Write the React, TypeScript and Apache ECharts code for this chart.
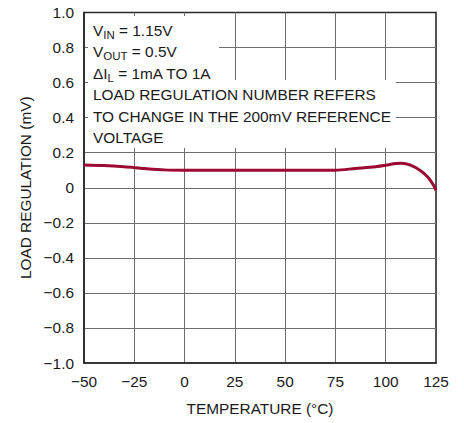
import React, { useEffect, useRef } from "react";
import * as echarts from "echarts";

const temperature = [-50, -40, -30, -20, -10, 0, 25, 50, 75, 85, 95, 100, 105, 108, 112, 117, 121, 124, 125];
const loadRegulation = [0.13, 0.127, 0.12, 0.11, 0.102, 0.1, 0.1, 0.1, 0.1, 0.11, 0.12, 0.128, 0.138, 0.14, 0.13, 0.1, 0.06, 0.01, -0.015];

const xTicks = [-50, -25, 0, 25, 50, 75, 100, 125];
const xTickLabels = ["\u221250", "\u221225", "0", "25", "50", "75", "100", "125"];
const yTicks = [-1, -0.8, -0.6, -0.4, -0.2, 0, 0.2, 0.4, 0.6, 0.8, 1];
const yTickLabels = ["\u22121.0", "\u22120.8", "\u22120.6", "\u22120.4", "\u22120.2", "0", "0.2", "0.4", "0.6", "0.8", "1.0"];

const noteLines = [
  "{m|V}{s|IN}{m| = 1.15V}",
  "{m|V}{s|OUT}{m| = 0.5V}",
  "{m|\u0394I}{s|L}{m| = 1mA TO 1A}",
  "{m|LOAD REGULATION NUMBER REFERS}",
  "{m|TO CHANGE IN THE 200mV REFERENCE}",
  "{m|VOLTAGE}",
];

const FONT = "'Liberation Sans', Arial, sans-serif";
const FS = 15.4;
const TEXT = "#1a1a1a";

function labelFor(v: number, ticks: number[], labels: string[]) {
  let best = 0;
  for (let i = 1; i < ticks.length; i++) {
    if (Math.abs(ticks[i] - v) < Math.abs(ticks[best] - v)) best = i;
  }
  return labels[best];
}

export default function App() {
  const ref = useRef<HTMLDivElement>(null);
  useEffect(() => {
    if (!ref.current) return;
    const chart = echarts.init(ref.current, undefined, { renderer: "svg" });
    const rich = {
      m: { fontSize: FS, lineHeight: 20, fontFamily: FONT, fill: TEXT, color: TEXT },
      s: { fontSize: 11.5, lineHeight: 10, verticalAlign: "bottom", fontFamily: FONT, fill: TEXT, color: TEXT },
    };
    const baselines = [36, 57, 79, 100, 121.5, 142.5];
    const texts = noteLines.map((t, i) => ({
      type: "text",
      x: 93,
      y: baselines[i] - 15.5,
      z: 11,
      style: { text: t, rich, fill: TEXT, fontFamily: FONT, fontSize: FS },
    }));
    chart.setOption({
      animation: false,
      grid: {
        left: 84,
        right: 28,
        top: 12.5,
        bottom: 60,
        show: true,
        borderColor: "#2a2a2a",
        borderWidth: 1.6,
        containLabel: false,
      },
      xAxis: {
        type: "value",
        min: -50,
        max: 125,
        interval: 25,
        name: "TEMPERATURE (\u00B0C)",
        nameLocation: "middle",
        nameGap: 38,
        nameTextStyle: { fontFamily: FONT, fontSize: FS, color: TEXT },
        axisLine: { show: true, onZero: false, lineStyle: { color: "#2a2a2a", width: 1.6 } },
        axisTick: { show: false },
        axisLabel: {
          margin: 11,
          fontFamily: FONT,
          fontSize: FS,
          color: TEXT,
          formatter: (v: number) => labelFor(v, xTicks, xTickLabels),
        },
        splitLine: { show: true, showMinLine: false, showMaxLine: false, lineStyle: { color: "#6e6e6e", width: 1 } },
      },
      yAxis: {
        type: "value",
        min: -1,
        max: 1,
        interval: 0.2,
        name: "LOAD REGULATION (mV)",
        nameLocation: "middle",
        nameGap: 47,
        nameTextStyle: { fontFamily: FONT, fontSize: FS, color: TEXT },
        axisLine: { show: true, onZero: false, lineStyle: { color: "#2a2a2a", width: 1.6 } },
        axisTick: { show: false },
        axisLabel: {
          margin: 10,
          fontFamily: FONT,
          fontSize: FS,
          color: TEXT,
          formatter: (v: number) => labelFor(v, yTicks, yTickLabels),
        },
        splitLine: { show: true, showMinLine: false, showMaxLine: false, lineStyle: { color: "#6e6e6e", width: 1 } },
      },
      series: [
        {
          type: "line",
          data: temperature.map((t, i) => [t, loadRegulation[i]]),
          showSymbol: false,
          smooth: 0.3,
          lineStyle: { color: "#9c0a33", width: 3 },
          z: 3,
        },
      ],
      graphic: [
        { type: "rect", z: 10, shape: { x: 88, y: 16, width: 131, height: 64 }, style: { fill: "#ffffff" } },
        { type: "rect", z: 10, shape: { x: 88, y: 80, width: 308, height: 68 }, style: { fill: "#ffffff" } },
        ...texts,
      ],
    });
    return () => chart.dispose();
  }, []);
  return <div ref={ref} style={{ position: "fixed", left: 0, top: 0, width: 464, height: 423, background: "#fff" }} />;
}
